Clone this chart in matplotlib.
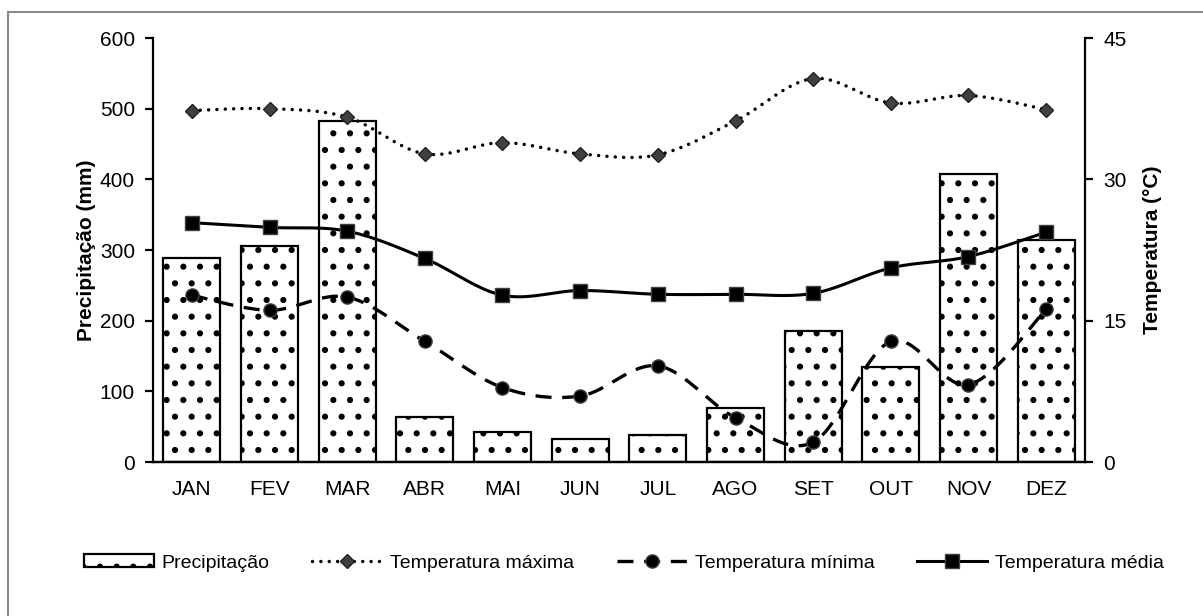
import matplotlib
matplotlib.use("Agg")
import matplotlib.pyplot as plt
import matplotlib.patches as mpatches
import numpy as np

plt.rcParams["font.family"] = ["Liberation Sans", "DejaVu Sans"]
plt.rcParams["hatch.linewidth"] = 2.0

# ── data ─────────────────────────────────────────────────────────────────────
meses = ["JAN", "FEV", "MAR", "ABR", "MAI", "JUN",
         "JUL", "AGO", "SET", "OUT", "NOV", "DEZ"]
precipitacao = [288, 305, 483, 63, 42, 32, 38, 77, 185, 134, 408, 314]
temp_max = [37.3, 37.5, 36.6, 32.7, 33.9, 32.7, 32.6, 36.2, 40.7, 38.1, 38.9, 37.4]
temp_min = [17.7, 16.1, 17.5, 12.8, 7.9, 7.0, 10.2, 4.7, 2.1, 12.8, 8.2, 16.2]
temp_med = [25.4, 24.9, 24.5, 21.6, 17.7, 18.2, 17.8, 17.8, 17.9, 20.6, 21.8, 24.4]

N_SEG = 20  # samples per segment for the smoothed (Excel-like) curves


def smooth(y):
    """Catmull-Rom style bezier through the points, like Excel's smoothed line."""
    y = np.asarray(y, dtype=float)
    x = np.arange(len(y), dtype=float)
    px = np.concatenate([[x[0]], x, [x[-1]]])
    py = np.concatenate([[y[0]], y, [y[-1]]])
    t = np.linspace(0, 1, N_SEG, endpoint=False)[:, None]
    xs, ys = [], []
    for i in range(1, len(px) - 2):
        p0 = np.array([px[i], py[i]])
        p3 = np.array([px[i + 1], py[i + 1]])
        p1 = p0 + (p3 - np.array([px[i - 1], py[i - 1]])) / 6
        p2 = p3 - (np.array([px[i + 2], py[i + 2]]) - p0) / 6
        pts = ((1 - t) ** 3) * p0 + 3 * ((1 - t) ** 2) * t * p1 \
            + 3 * (1 - t) * t ** 2 * p2 + t ** 3 * p3
        xs.append(pts[:, 0])
        ys.append(pts[:, 1])
    xs.append([x[-1]])
    ys.append([y[-1]])
    return np.concatenate(xs), np.concatenate(ys)


fig = plt.figure(figsize=(12.03, 6.16), dpi=100)
ax = fig.add_axes([153 / 1203, 1 - 462 / 616, (1085 - 153) / 1203, (462 - 38) / 616])
ax2 = ax.twinx()

x = np.arange(len(meses))
ax.bar(x, precipitacao, width=0.73, color="white", edgecolor="black",
       linewidth=1.6, hatch=".", label="Precipitação", zorder=2)

ax.set_xlim(-0.5, len(meses) - 0.5)
ax.set_ylim(0, 600)
ax.set_yticks(range(0, 601, 100))
ax.set_xticks(x)
ax.set_xticklabels(meses)
ax2.set_ylim(0, 45)
ax2.set_yticks([0, 15, 30, 45])

for a in (ax, ax2):
    a.spines["top"].set_visible(False)
    for s in a.spines.values():
        s.set_linewidth(1.6)
ax2.spines["left"].set_visible(False)
ax.spines["right"].set_visible(False)

ax.tick_params(axis="y", direction="out", length=6, width=1.6, labelsize=15, pad=7)
ax.tick_params(axis="x", length=0, labelsize=15, pad=13)
ax2.tick_params(axis="y", direction="out", length=6, width=1.6, labelsize=15, pad=7)

ax.set_ylabel("Precipitação (mm)", fontsize=15, fontweight="bold", labelpad=3)
ax2.set_ylabel("Temperatura (°C)", fontsize=15, fontweight="bold", labelpad=12)

# ── temperature lines ────────────────────────────────────────────────────────
sx, sy = smooth(temp_max)
ax2.plot(sx, sy, color="black", lw=2.5, linestyle=(0, (0.01, 2.4)),
         dash_capstyle="round", marker="D", markevery=N_SEG, markersize=7,
         markerfacecolor="#404040", markeredgecolor="#202020", markeredgewidth=1,
         label="Temperatura máxima")
sx, sy = smooth(temp_min)
ax2.plot(sx, sy, color="black", lw=2.4, linestyle=(0, (4.8, 3.2)),
         marker="o", markevery=N_SEG, markersize=9.5,
         markerfacecolor="black", markeredgecolor="#404040", markeredgewidth=1,
         label="Temperatura mínima")
sx, sy = smooth(temp_med)
ax2.plot(sx, sy, color="black", lw=2.2,
         marker="s", markevery=N_SEG, markersize=9.5,
         markerfacecolor="black", markeredgecolor="#404040", markeredgewidth=1,
         label="Temperatura média")

# ── legend ───────────────────────────────────────────────────────────────────
h1, l1 = ax.get_legend_handles_labels()
h2, l2 = ax2.get_legend_handles_labels()
fig.legend(h1 + h2, l1 + l2, loc="center", ncol=4, frameon=False,
           bbox_to_anchor=(624 / 1203, 1 - 563 / 616), fontsize=14,
           handlelength=3.6, handleheight=0.6, handletextpad=0.4,
           columnspacing=2.2)

# grey chart-area border (only top and left visible in the original)
fig.add_artist(mpatches.Rectangle((8 / 1203, -0.1), 1.2, 1.1 - 12 / 616,
                                  transform=fig.transFigure, fill=False,
                                  edgecolor="#8a8a8a", linewidth=1.5))

fig.savefig("out.png", dpi=100)
